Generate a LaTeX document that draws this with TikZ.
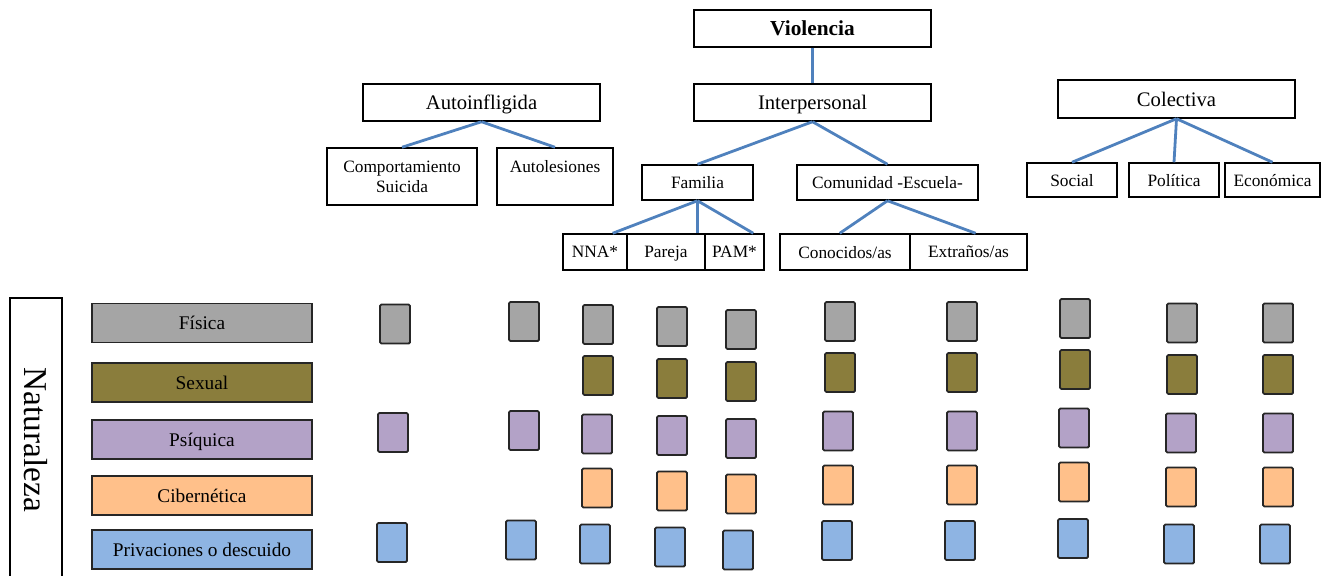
\documentclass[tikz,border=0pt]{standalone}
\usepackage{fontspec}
\setmainfont{Liberation Serif}
\usetikzlibrary{calc}
\definecolor{gris}{HTML}{A5A5A5}
\definecolor{oliva}{HTML}{8A7D3C}
\definecolor{lila}{HTML}{B3A2C7}
\definecolor{naranja}{HTML}{FFC08A}
\definecolor{azul}{HTML}{8EB4E3}
\definecolor{linea}{HTML}{4F81BD}
\tikzset{
  bx/.style 2 args={draw=black, line width=1.1pt, fill=white, inner sep=0pt,
    minimum width=#1*0.75pt, minimum height=#2*0.75pt, align=center},
  big/.style={font=\fontsize{15.5}{18}\selectfont},
  small/.style={font=\fontsize{13}{15}\selectfont},
  one/.style={text depth=0pt},
  conn/.style={draw=linea, line width=2.1pt},
  sq/.style={draw=black!85, line width=1.4pt, rounded corners=1pt,
    minimum width=30*0.75pt, minimum height=39*0.75pt, inner sep=0pt},
  lbox/.style={draw=black!85, line width=1.3pt, inner sep=0pt,
    minimum width=220*0.75pt, minimum height=39*0.75pt,
    text depth=0pt,
    font=\fontsize{14.5}{17}\selectfont}
}
\begin{document}
\begin{tikzpicture}[x=0.75pt,y=-0.75pt]
\useasboundingbox (0,0) rectangle (1326,575);
% tree
\node[bx={237}{37}, one, font=\fontsize{16}{18}\selectfont\bfseries] (viol) at (812.5,28.5) {Violencia};
\node[bx={237}{37}, big, one] (inter) at (812.5,102.5) {Interpersonal};
\node[bx={237}{37}, big, one] (auto) at (481.5,102.5) {Autoinfligida};
\node[bx={237}{38}, big, one] (colec) at (1176.5,99) {Colectiva};
\node[bx={150}{57}, small] (comp) at (402,176.5) {Comportamiento\\Suicida};
\node[bx={116}{57}, small] (autol) at (555,176.5) {Autolesiones\\\phantom{X}};
\node[bx={111}{35}, small, one] (fam) at (697.5,182.5) {Familia};
\node[bx={181}{35}, small, one] (com) at (887.5,182.5) {Comunidad -Escuela-};
\node[bx={64}{36}, small, one] (nna) at (595,252) {NNA*};
\node[bx={78}{36}, small, one] (pareja) at (666,252) {Pareja};
\node[bx={59}{36}, small, one] (pam) at (734.5,252) {PAM*};
\node[bx={130}{36}, small, one] (cono) at (845,252) {Conocidos/as};
\node[bx={117}{36}, small, one] (extr) at (968.5,252) {Extraños/as};
\node[bx={90}{34}, small, one] (social) at (1072,180) {Social};
\node[bx={90}{34}, small, one] (pol) at (1174,180) {Política};
\node[bx={95}{34}, small, one] (econ) at (1272.5,180) {Económica};
% connectors
\draw[conn] (viol.south) -- (inter.north);
\draw[conn] (auto.south) -- (comp.north);
\draw[conn] (auto.south) -- (autol.north);
\draw[conn] (inter.south) -- (fam.north);
\draw[conn] (inter.south) -- (com.north);
\draw[conn] (fam.south) -- ($(nna.north west)!0.77!(nna.north east)$);
\draw[conn] (fam.south) -- (fam.south |- pareja.north);
\draw[conn] (fam.south) -- ($(pam.north west)!0.81!(pam.north east)$);
\draw[conn] (com.south) -- ($(cono.north west)!0.46!(cono.north east)$);
\draw[conn] (com.south) -- ($(extr.north west)!0.56!(extr.north east)$);
\draw[conn] (colec.south) -- (social.north);
\draw[conn] (colec.south) -- (pol.north);
\draw[conn] (colec.south) -- (econ.north);
% Naturaleza
\node[draw=black, line width=1.3pt, rotate=-90, minimum width=284*0.75pt,
  minimum height=52*0.75pt, inner sep=0pt, font=\fontsize{25}{28}\selectfont] (nat) at (36,440) {Naturaleza};
% labels
\node[lbox, fill=gris] (lfis) at (202,323) {Física};
\node[lbox, fill=oliva] (lsex) at (202,382.5) {Sexual};
\node[lbox, fill=lila] (lpsi) at (202,439.5) {Psíquica};
\node[lbox, fill=naranja] (lcib) at (202,495.5) {Cibernética};
\node[lbox, fill=azul] (lpri) at (202,549.5) {Privaciones o descuido};
% column 1
\node[sq, fill=gris] (f1) at (395,324) {};
\node[sq, fill=lila] (p1) at (393,432.5) {};
\node[sq, fill=azul] (v1) at (392,542.5) {};
% column 2
\node[sq, fill=gris] (f2) at (524,321.5) {};
\node[sq, fill=lila] (p2) at (524,430.5) {};
\node[sq, fill=azul] (v2) at (521,540) {};
% column 3
\node[sq, fill=gris] (f3) at (598,324.5) {};
\node[sq, fill=oliva] (s3) at (598,375.5) {};
\node[sq, fill=lila] (p3) at (597,434) {};
\node[sq, fill=naranja] (c3) at (597,488) {};
\node[sq, fill=azul] (v3) at (595,544) {};
% column 4
\node[sq, fill=gris] (f4) at (672,326.5) {};
\node[sq, fill=oliva] (s4) at (672,378.5) {};
\node[sq, fill=lila] (p4) at (672,435.5) {};
\node[sq, fill=naranja] (c4) at (672,491) {};
\node[sq, fill=azul] (v4) at (670,547) {};
% column 5
\node[sq, fill=gris] (f5) at (741,329.5) {};
\node[sq, fill=oliva] (s5) at (741,381.5) {};
\node[sq, fill=lila] (p5) at (741,438.5) {};
\node[sq, fill=naranja] (c5) at (741,494) {};
\node[sq, fill=azul] (v5) at (738,550) {};
% column 6
\node[sq, fill=gris] (f6) at (840,321.5) {};
\node[sq, fill=oliva] (s6) at (840,372.5) {};
\node[sq, fill=lila] (p6) at (838,431) {};
\node[sq, fill=naranja] (c6) at (838,485) {};
\node[sq, fill=azul] (v6) at (837,540.5) {};
% column 7
\node[sq, fill=gris] (f7) at (962,321.5) {};
\node[sq, fill=oliva] (s7) at (962,372.5) {};
\node[sq, fill=lila] (p7) at (962,431) {};
\node[sq, fill=naranja] (c7) at (962,485) {};
\node[sq, fill=azul] (v7) at (960,540.5) {};
% column 8
\node[sq, fill=gris] (f8) at (1075,318.5) {};
\node[sq, fill=oliva] (s8) at (1075,369.5) {};
\node[sq, fill=lila] (p8) at (1074,428) {};
\node[sq, fill=naranja] (c8) at (1074,482) {};
\node[sq, fill=azul] (v8) at (1073,538.5) {};
% column 9
\node[sq, fill=gris] (f9) at (1182,323) {};
\node[sq, fill=oliva] (s9) at (1182,374.5) {};
\node[sq, fill=lila] (p9) at (1181,433) {};
\node[sq, fill=naranja] (c9) at (1181,487) {};
\node[sq, fill=azul] (v9) at (1179,544) {};
% column 10
\node[sq, fill=gris] (f10) at (1278,323) {};
\node[sq, fill=oliva] (s10) at (1278,374.5) {};
\node[sq, fill=lila] (p10) at (1278,433) {};
\node[sq, fill=naranja] (c10) at (1278,487) {};
\node[sq, fill=azul] (v10) at (1275,544) {};
\end{tikzpicture}
\end{document}
